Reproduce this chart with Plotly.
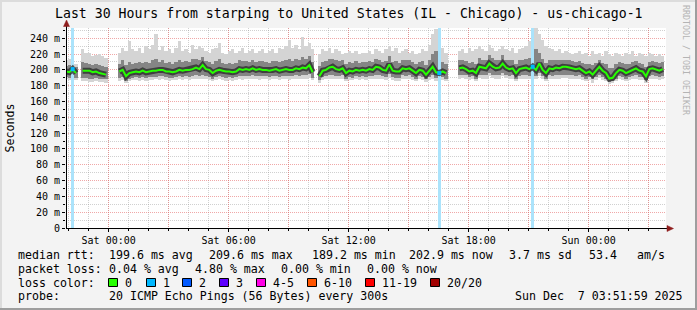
import plotly.graph_objects as go
from datetime import datetime, timedelta

# ---------------- data ----------------
T_END = datetime(2025, 12, 7, 3, 51, 59)
T0 = T_END - timedelta(hours=30)
STEP_MIN = 10
YMAX = 253

N = None
# median rtt (ms) per 10-minute bin
med = [198, 197, 201, 196, N, 199, 199, 199, 197, 198,
       196, 195, 194, N, N, N, 198, 200, 192, 196,
       197, 198, 197, 199, 197, 198, 199, 199, 200, 200,
       198, 198, 197, 198, 200, 199, 200, 200, 201, 203,
       201, 206, 201, 200, 196, 199, 200, 199, 198, 198,
       197, 198, 201, 200, 201, 200, 202, 200, 201, 200,
       200, 199, 200, 201, 199, 200, 201, 200, 200, 202,
       201, 203, 202, 206, 197, N, 192, 199, 200, 203,
       204, 201, 200, 202, 196, 199, 198, 200, 199, 200,
       199, 201, 200, 204, 203, 200, 199, 207, 199, 198,
       198, 202, 201, 202, 199, 196, 200, 199, 194, 199,
       204, 197, 196, 198, 196, N, N, N, 202, 203,
       201, 198, 199, 196, 204, 203, 202, 208, 204, 202,
       203, 208, 203, 201, 202, 196, 201, 202, 203, 201,
       204, 200, 208, 200, 196, 202, 201, 203, 202, 204,
       204, 203, 202, 201, 202, 199, 196, 198, 194, 199,
       204, 199, 196, 189, 190, 196, 200, 199, 196, 198,
       200, 202, 199, 198, 192, 201, 202, 200, 199, 201]

# max ping (ms)
mx = [212, 214, 210, 208, N, 227, 222, 221, 218, 219,
      220, 217, 215, N, N, N, 222, 228, 224, 236,
      226, 224, 228, 222, 230, 226, 232, 246, 225, 230,
      224, 226, 222, 228, 236, 224, 226, 222, 232, 226,
      230, 228, 224, 222, 226, 228, 234, 222, 220, 224,
      226, 222, 224, 228, 222, 224, 226, 222, 224, 226,
      222, 224, 226, 222, 228, 226, 230, 238, 228, 232,
      226, 242, 230, 234, 226, N, 220, 226, 224, 228,
      222, 226, 224, 220, 222, 224, 222, 224, 220, 222,
      222, 224, 220, 226, 224, 222, 226, 230, 224, 228,
      222, 224, 226, 222, 224, 220, 222, 226, 224, 232,
      246, 252, 240, 228, 222, N, N, N, 224, 226,
      222, 228, 224, 226, 230, 226, 224, 232, 228, 224,
      226, 230, 226, 224, 228, 222, 226, 228, 230, 236,
      240, 253, 246, 238, 230, 228, 226, 224, 226, 222,
      224, 222, 220, 222, 224, 220, 222, 218, 224, 220,
      222, 218, 224, 220, 218, 222, 220, 218, 222, 220,
      224, 218, 222, 220, 218, 222, 220, 218, 220, 218]

# min ping (ms)
mn = [188, 187, 188, 187, N, 186, 186, 185, 185, 186,
      185, 185, 184, N, N, N, 186, 187, 183, 186,
      187, 187, 186, 187, 186, 187, 187, 188, 187, 188,
      187, 186, 187, 187, 188, 187, 188, 187, 188, 189,
      188, 189, 188, 187, 186, 187, 188, 187, 186, 187,
      186, 187, 188, 187, 188, 188, 189, 188, 187, 188,
      188, 187, 188, 188, 187, 188, 188, 187, 188, 189,
      188, 189, 188, 190, 187, N, 184, 187, 188, 189,
      189, 188, 188, 189, 186, 187, 187, 188, 187, 188,
      187, 188, 188, 189, 189, 188, 187, 190, 187, 186,
      186, 188, 188, 189, 187, 186, 188, 187, 185, 187,
      189, 186, 186, 187, 186, N, N, N, 189, 190,
      189, 187, 188, 186, 190, 189, 189, 192, 190, 189,
      189, 192, 190, 189, 189, 186, 188, 189, 189, 188,
      190, 188, 192, 188, 186, 189, 188, 189, 189, 190,
      190, 189, 189, 188, 189, 187, 186, 187, 184, 187,
      190, 187, 186, 182, 183, 186, 188, 187, 186, 187,
      188, 189, 187, 187, 184, 188, 189, 188, 187, 188]

# lower / upper bound of the denser smoke (ms)
dn = [191, 190, 192, 190, N, 190, 190, 189, 189, 190,
      189, 188, 188, N, N, N, 190, 191, 186, 189,
      190, 191, 190, 191, 190, 191, 191, 191, 192, 192,
      191, 190, 190, 191, 192, 191, 192, 191, 192, 193,
      192, 194, 192, 191, 189, 191, 192, 191, 190, 191,
      190, 191, 192, 192, 192, 192, 193, 192, 192, 192,
      192, 191, 192, 192, 191, 192, 192, 192, 192, 193,
      192, 193, 193, 195, 190, N, 187, 191, 192, 193,
      194, 192, 192, 193, 189, 191, 190, 192, 191, 192,
      191, 192, 192, 194, 193, 192, 191, 195, 191, 190,
      190, 193, 192, 193, 191, 189, 192, 191, 188, 191,
      194, 190, 189, 191, 189, N, N, N, 193, 194,
      193, 191, 192, 189, 194, 193, 193, 196, 194, 193,
      193, 196, 194, 192, 193, 189, 192, 193, 193, 192,
      194, 192, 196, 192, 189, 193, 192, 193, 193, 194,
      194, 193, 193, 192, 193, 191, 189, 191, 188, 191,
      194, 191, 189, 185, 186, 189, 192, 191, 189, 191,
      192, 193, 191, 191, 187, 192, 193, 192, 191, 192]

up = [205, 206, 206, 204, N, 210, 209, 208, 206, 207,
      206, 205, 204, N, N, N, 208, 212, 206, 210,
      208, 209, 210, 209, 210, 209, 212, 214, 210, 212,
      209, 210, 208, 210, 213, 210, 211, 210, 214, 214,
      212, 216, 211, 210, 208, 211, 214, 209, 208, 209,
      208, 209, 212, 211, 211, 210, 213, 210, 211, 211,
      210, 209, 211, 211, 210, 211, 213, 214, 211, 214,
      212, 216, 214, 218, 210, N, 205, 210, 211, 214,
      214, 212, 211, 212, 207, 210, 209, 211, 209, 210,
      210, 211, 210, 214, 213, 210, 211, 218, 210, 211,
      209, 212, 212, 212, 210, 207, 210, 211, 206, 212,
      220, 224, 214, 210, 207, N, N, N, 212, 213,
      211, 209, 210, 208, 215, 213, 212, 219, 215, 212,
      213, 219, 213, 212, 213, 207, 212, 213, 214, 215,
      218, 226, 222, 214, 209, 213, 212, 213, 212, 213,
      213, 212, 211, 210, 211, 209, 207, 208, 206, 209,
      213, 209, 207, 202, 202, 207, 210, 209, 207, 208,
      210, 211, 209, 208, 204, 210, 211, 210, 209, 210]

# bins with packet loss (bin index -> lost pings of 20)
loss = {2: 1, 112: 1, 140: 1}

y_tickvals = [0, 20, 40, 60, 80, 100, 120, 140, 160, 180, 200, 220, 240]
y_ticktext = ["0", "20 m", "40 m", "60 m", "80 m", "100 m", "120 m", "140 m",
              "160 m", "180 m", "200 m", "220 m", "240 m"]

loss_labels = ["0", "1", "2", "3", "4-5", "6-10", "11-19", "20/20"]
loss_colors = ["#26ff00", "#00b8ff", "#0059ff", "#5e00ff", "#ff00e6", "#ff5500", "#ff0000", "#a10000"]

title = "Last 30 Hours from starping to United States (IL - Chicago) - us-chicago-1"
rtt_line = [("median rtt:", 16), ("199.6 ms avg", 107), ("209.6 ms max", 207),
            ("189.2 ms min", 310), ("202.9 ms now", 407), ("3.7 ms sd", 507),
            ("53.4", 587), ("am/s", 635)]
loss_line = [("packet loss:", 16), ("0.04 % avg", 107), ("4.80 % max", 193),
             ("0.00 % min", 279), ("0.00 % now", 365)]
probe_line = [("probe:", 16), ("20 ICMP Echo Pings (56 Bytes) every 300s", 107),
              ("Sun Dec\u00a0\u00a07 03:51:59 2025", 513)]

# ---------------- geometry helpers (pixel -> paper) ----------------
W, H = 697, 310
L, R, T, B = 66, 666, 28, 228


def px(x):
    return (x - L) / (R - L)


def py(y):
    return (B - y) / (B - T)


times = [T0 + timedelta(minutes=STEP_MIN * i) for i in range(len(med))]
BW = STEP_MIN * 60 * 1000


def span(a, b):
    return [None if (u is None or v is None) else v - u for u, v in zip(a, b)]


fig = go.Figure()
fig.add_trace(go.Bar(x=times, y=span(mn, mx), base=mn, width=BW,
                     marker=dict(color="#d4d4d4", line_width=0), hoverinfo="skip"))
fig.add_trace(go.Bar(x=times, y=span(dn, up), base=dn, width=BW,
                     marker=dict(color="#858585", line_width=0), hoverinfo="skip"))
fig.add_trace(go.Scatter(x=times, y=med, mode="lines",
                         line=dict(color="rgba(40,40,40,0.75)", width=6),
                         hoverinfo="skip"))
lidx = sorted(loss)
fig.add_trace(go.Bar(x=[times[i] for i in lidx], y=[YMAX] * len(lidx), base=0, width=BW,
                     marker=dict(color="#abe3fb", line_width=0), hoverinfo="skip"))
fig.add_trace(go.Scatter(x=times, y=med, mode="lines",
                         line=dict(color=loss_colors[0], width=2)))
fig.add_trace(go.Scatter(x=[times[i] for i in lidx], y=[med[i] for i in lidx], mode="markers",
                         marker=dict(symbol="square", size=4,
                                     color=[loss_colors[min(loss[i], 7)] for i in lidx],
                                     line_width=0)))

# x ticks
sat0 = datetime(2025, 12, 6, 0, 0)
major = []
labels = []
t = sat0
k = 0
while t <= T_END:
    major.append(t)
    labels.append(t.strftime("%a %H:%M") if k % 2 == 0 else "")
    t += timedelta(hours=3)
    k += 1
minor_x = []
t = datetime(2025, 12, 5, 22, 0)
while t <= T_END:
    minor_x.append(t)
    t += timedelta(hours=1)

MONO = "DejaVu Sans Mono"
RED_GRID = "rgba(230,110,110,0.6)"
GRAY_GRID = "rgba(150,150,150,0.45)"

fig.update_layout(
    width=W, height=H, autosize=False,
    margin=dict(l=L, r=W - R, t=T, b=H - B, pad=0),
    paper_bgcolor="#f3f3f3", plot_bgcolor="#ffffff",
    showlegend=False, barmode="overlay", bargap=0,
    font=dict(family=MONO, size=10, color="#000000"),
    xaxis=dict(type="date", range=[T0, T_END], tickmode="array", tickvals=major, ticktext=labels,
               showgrid=True, gridcolor=RED_GRID, griddash="1px,1px", gridwidth=1,
               ticks="outside", ticklen=3, tickcolor="#000", zeroline=False, showline=False,
               tickfont=dict(family=MONO, size=10),
               minor=dict(tickmode="array", tickvals=minor_x, showgrid=True, gridcolor=GRAY_GRID,
                          griddash="1px,1px", ticks="outside", ticklen=2, tickcolor="#000")),
    yaxis=dict(range=[0, YMAX], tickmode="array", tickvals=y_tickvals, ticktext=y_ticktext,
               showgrid=True, gridcolor=RED_GRID, griddash="1px,1px", gridwidth=1,
               ticks="outside", ticklen=3, tickcolor="#000", zeroline=False, showline=False,
               tickfont=dict(family=MONO, size=10),
               minor=dict(tickmode="array", tickvals=list(range(10, 260, 20)), showgrid=True,
                          gridcolor=GRAY_GRID, griddash="1px,1px", ticks="outside", ticklen=2,
                          tickcolor="#000")),
)

shapes = []
# frame
shapes.append(dict(type="rect", xref="paper", yref="paper", x0=px(0), x1=px(W), y0=py(H - 2), y1=py(H),
                   fillcolor="#9e9e9e", line_width=0, layer="above"))
shapes.append(dict(type="rect", xref="paper", yref="paper", x0=px(W - 2), x1=px(W), y0=py(H), y1=py(0),
                   fillcolor="#9e9e9e", line_width=0, layer="above"))
shapes.append(dict(type="rect", xref="paper", yref="paper", x0=px(0), x1=px(W - 2), y0=py(2), y1=py(0),
                   fillcolor="#dcdcdc", line_width=0, layer="above"))
shapes.append(dict(type="rect", xref="paper", yref="paper", x0=px(0), x1=px(2), y0=py(H - 2), y1=py(0),
                   fillcolor="#dcdcdc", line_width=0, layer="above"))
# axes
shapes.append(dict(type="line", xref="paper", yref="paper", x0=px(66.5), x1=px(66.5), y0=py(228.5), y1=py(24),
                   line=dict(color="#000", width=1), layer="above"))
shapes.append(dict(type="line", xref="paper", yref="paper", x0=px(66), x1=px(669), y0=py(228.5), y1=py(228.5),
                   line=dict(color="#000", width=1), layer="above"))
# arrows
shapes.append(dict(type="path", xref="paper", yref="paper", layer="above",
                   path=f"M {px(63.5)} {py(26.5)} L {px(69.5)} {py(26.5)} L {px(66.5)} {py(20)} Z",
                   fillcolor="#8f1d1d", line=dict(color="#8f1d1d", width=0.5)))
shapes.append(dict(type="path", xref="paper", yref="paper", layer="above",
                   path=f"M {px(667)} {py(225.5)} L {px(667)} {py(231.5)} L {px(673.5)} {py(228.5)} Z",
                   fillcolor="#8f1d1d", line=dict(color="#8f1d1d", width=0.5)))

annotations = []
annotations.append(dict(text=title, xref="paper", yref="paper", x=px(348.5), y=py(14),
                        xanchor="center", yanchor="middle", showarrow=False,
                        font=dict(family=MONO, size=13.2, color="#000")))
annotations.append(dict(text="Seconds", xref="paper", yref="paper", x=px(9.5), y=py(128),
                        xanchor="center", yanchor="middle", showarrow=False, textangle=-90,
                        font=dict(family=MONO, size=11.6, color="#000")))
annotations.append(dict(text="RRDTOOL / TOBI OETIKER", xref="paper", yref="paper", x=px(686), y=py(60),
                        xanchor="center", yanchor="middle", showarrow=False, textangle=90,
                        font=dict(family=MONO, size=8.3, color="#b4b4b4")))

LF = 11.6
for lineitems, yy in ((rtt_line, 255), (loss_line, 268.5), (probe_line, 296)):
    for txt, xx in lineitems:
        annotations.append(dict(text=txt, xref="paper", yref="paper", x=px(xx), y=py(yy),
                                xanchor="left", yanchor="middle", showarrow=False,
                                font=dict(family=MONO, size=LF, color="#000")))
annotations.append(dict(text="loss color:", xref="paper", yref="paper", x=px(16), y=py(282.5),
                        xanchor="left", yanchor="middle", showarrow=False,
                        font=dict(family=MONO, size=LF, color="#000")))
box_x = [108, 146, 182, 219, 256, 307, 365, 430]
for bx, lab, col in zip(box_x, loss_labels, loss_colors):
    shapes.append(dict(type="rect", xref="paper", yref="paper", x0=px(bx + 0.5), x1=px(bx + 9.5),
                       y0=py(286.5), y1=py(278.5), fillcolor=col, line=dict(color="#000", width=1),
                       layer="above"))
    annotations.append(dict(text=lab, xref="paper", yref="paper", x=px(bx + 15), y=py(282.5),
                            xanchor="left", yanchor="middle", showarrow=False,
                            font=dict(family=MONO, size=LF, color="#000")))

fig.update_layout(shapes=shapes, annotations=annotations)
fig.write_html("out.html")
